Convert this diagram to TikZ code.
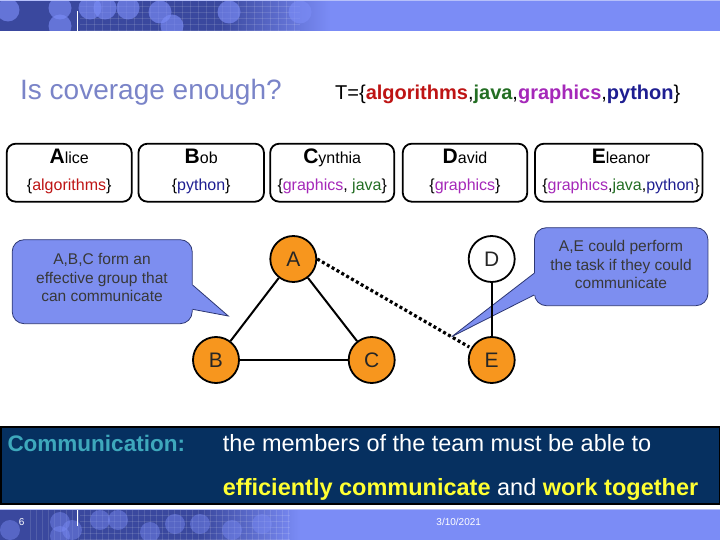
\documentclass[tikz,border=0pt]{standalone}
\usepackage{fontspec}
\setmainfont{Liberation Sans}
\usetikzlibrary{calc}
\definecolor{peri}{RGB}{123,140,246}
\definecolor{barDark}{RGB}{58,72,158}
\definecolor{barMid}{RGB}{88,104,200}
\definecolor{navyband}{RGB}{6,48,96}
\definecolor{orangeN}{RGB}{247,150,30}
\definecolor{titlecol}{RGB}{122,132,200}
\definecolor{algred}{RGB}{190,20,20}
\definecolor{javagreen}{RGB}{35,110,35}
\definecolor{graphpurple}{RGB}{165,40,185}
\definecolor{pynavy}{RGB}{30,30,145}
\definecolor{callfill}{RGB}{125,142,240}
\definecolor{callborder}{RGB}{45,55,115}
\definecolor{commteal}{RGB}{62,168,188}
\definecolor{hiyellow}{RGB}{255,255,50}
\begin{document}
\begin{tikzpicture}[x=1pt,y=-1pt,
  personbox/.style={draw=black, line width=1.8pt, rounded corners=9pt, fill=white, inner sep=0pt},
  memberfont/.style={font=\fontsize{16}{19}\selectfont, inner sep=0pt},
  vertex/.style={circle, draw=black, line width=1.8pt, minimum size=46pt, inner sep=0pt, font=\fontsize{21}{24}\selectfont, text=black!85},
  member/.style={vertex, fill=orangeN},
  edge/.style={draw=black, line width=2pt},
  weakedge/.style={draw=black, line width=3.2pt, dash pattern=on 3pt off 2.6pt, shorten >=2pt},
  callbox/.style={draw=callborder, line width=0.8pt, fill=callfill, rounded corners=12pt, inner sep=0pt},
  calltext/.style={align=center, text=black!78, font=\fontsize{15.5}{18.8}\selectfont, inner sep=0pt},
  bartext/.style={text=white, font=\fontsize{10}{12}\selectfont, inner sep=0pt, anchor=base}
]
\useasboundingbox (0,0) rectangle (720,540);
\fill[white] (0,0) rectangle (720,540);

% ---------- header bar ----------
\fill[peri] (0,0) rectangle (720,31);
\fill[barDark] (0,0) rectangle (220,31);
\shade[left color=barDark, right color=peri] (220,0) rectangle (330,31);
\begin{scope}
  \clip (0,0) rectangle (720,31);
  \foreach \gx in {86,94,...,300} \draw[white, opacity=0.12, line width=0.5pt] (\gx,0) -- (\gx,31);
  \foreach \gy in {6,12,...,30} \draw[white, opacity=0.12, line width=0.5pt] (80,\gy) -- (300,\gy);
  \foreach \cx/\cy in {8/10,60/8,60/26,90/8,105/8,128/8,160/12,172/26,229/12,300/12}
    \fill[peri, opacity=0.65] (\cx,\cy) circle (11.5);
\end{scope}
\fill[peri!55!white] (0,0) rectangle (720,1.2);
\draw[white, line width=1.5pt] (77.5,11) -- (77.5,31);

% ---------- titles ----------
\node[anchor=base west, inner sep=0pt, text=titlecol, font=\fontsize{28}{32}\selectfont] (title) at (20,100) {Is coverage enough?};
\node[anchor=base west, inner sep=0pt, font=\fontsize{20}{24}\selectfont] (tset) at (335,100)
  {T=\{\textbf{\textcolor{algred}{algorithms}},\textbf{\textcolor{javagreen}{java}},\textbf{\textcolor{graphpurple}{graphics}},\textbf{\textcolor{pynavy}{python}}\}};

% ---------- person boxes ----------
\node[personbox, minimum width=125pt, minimum height=58pt] (alice) at (69.2,172.7) {};
\node[personbox, minimum width=125.5pt, minimum height=58pt] (bob) at (201.2,172.7) {};
\node[personbox, minimum width=124pt, minimum height=58pt] (cynthia) at (332.2,172.7) {};
\node[personbox, minimum width=124.5pt, minimum height=58pt] (david) at (465,172.7) {};
\node[personbox, minimum width=167.5pt, minimum height=58pt] (eleanor) at (618.7,172.7) {};

\node[memberfont, anchor=base] (alicename) at (69.2,163.5) {{\fontsize{21}{24}\selectfont\bfseries A}lice};
\node[memberfont, anchor=base] (aliceset) at (69.2,191) {\{\textcolor{algred}{algorithms}\}};
\node[memberfont, anchor=base] (bobname) at (201.2,163.5) {{\fontsize{21}{24}\selectfont\bfseries B}ob};
\node[memberfont, anchor=base] (bobset) at (201.2,191) {\{\textcolor{pynavy}{python}\}};
\node[memberfont, anchor=base] (cynthianame) at (332.2,163.5) {{\fontsize{21}{24}\selectfont\bfseries C}ynthia};
\node[memberfont, anchor=base] (cynthiaset) at (332.2,191) {\{\textcolor{graphpurple}{graphics}, \textcolor{javagreen}{java}\}};
\node[memberfont, anchor=base] (davidname) at (465,163.5) {{\fontsize{21}{24}\selectfont\bfseries D}avid};
\node[memberfont, anchor=base] (davidset) at (465,191) {\{\textcolor{graphpurple}{graphics}\}};
\node[memberfont, anchor=base] (eleanorname) at (621,163.5) {{\fontsize{21}{24}\selectfont\bfseries E}leanor};
\node[memberfont, anchor=base] (eleanorset) at (621,191) {\{\textcolor{graphpurple}{graphics},\textcolor{javagreen}{java},\textcolor{pynavy}{python}\}};

% ---------- callouts ----------
\node[callbox, minimum width=180pt, minimum height=84pt] (call1) at (102.2,281.7) {};
\coordinate (tip1) at (228.3,316);
\fill[callfill] (189.5,285) -- (192.6,285) -- (tip1) -- (192.6,309.3) -- (189.5,309.3) -- cycle;
\draw[callborder, line width=0.8pt, line join=miter] (192.6,285) -- (tip1) -- (192.6,309.3);
\node[calltext] (call1text) at (102,277.5) {A,B,C form an\\effective group that\\can communicate};

\node[callbox, minimum width=173.5pt, minimum height=78pt] (call2) at (621.2,266.7) {};
\coordinate (tip2) at (451.7,336.7);
\fill[callfill] (537.2,273.3) -- (534.1,273.3) -- (tip2) -- (534.1,295) -- (537.2,295) -- cycle;
\draw[callborder, line width=0.8pt, line join=miter] (534.1,273.3) -- (tip2) -- (534.1,295);
\node[calltext] (call2text) at (621,264.5) {A,E could perform\\the task if they could\\communicate};

% ---------- graph ----------
\node[member] (A) at (293.3,259) {A};
\node[member] (B) at (216,360) {B};
\node[member] (C) at (371.7,360) {C};
\node[vertex, fill=white] (D) at (491.7,259) {D};
\node[member] (E) at (491.7,360) {E};

\draw[edge] (A) -- (B);
\draw[edge] (A) -- (C);
\draw[edge] (B) -- (C);
\draw[edge, line width=1.6pt] (D) -- (E);
\draw[weakedge] (A.east) -- (E.150);

% ---------- bottom band ----------
\node[draw=black, line width=1.5pt, fill=navyband, minimum width=718.5pt, minimum height=77pt, inner sep=0pt] (band) at (360,465.3) {};
\node[anchor=base west, inner sep=0pt, text=commteal, font=\fontsize{22.5}{26}\selectfont\bfseries] (commlabel) at (7.3,451) {Communication:};
\node[anchor=base west, inner sep=0pt, text=white, font=\fontsize{23.5}{27}\selectfont] (commline1) at (222.7,451) {the members of the team must be able to};
\node[anchor=base west, inner sep=0pt, text=white, font=\fontsize{23.5}{27}\selectfont] (commline2) at (222.7,495)
  {\textcolor{hiyellow}{\bfseries efficiently communicate} and \textcolor{hiyellow}{\bfseries work together}};

% ---------- footer bar ----------
\fill[peri] (0,509) rectangle (720,540);
\fill[barDark] (0,509) rectangle (200,540);
\shade[left color=barDark, right color=peri] (200,509) rectangle (300,540);
\begin{scope}
  \clip (0,509) rectangle (720,540);
  \foreach \gx in {30,36,...,290} \draw[white, opacity=0.12, line width=0.5pt] (\gx,509) -- (\gx,540);
  \foreach \gy in {515,521,...,540} \draw[white, opacity=0.12, line width=0.5pt] (80,\gy) -- (290,\gy);
  \foreach \cx/\cy in {10/530,60/522,60/536,72/530,100/520,118/520,150/532,175/524,200/524,232/530,262/524}
    \fill[peri, opacity=0.45] (\cx,\cy) circle (10);
\end{scope}
\fill[peri!55!white] (0,509) rectangle (720,510.2);
\draw[white, line width=1.5pt] (77.5,510) -- (77.5,525.7);
\node[bartext] (pagenum) at (21.7,525.5) {6};
\node[bartext] (datelabel) at (458.7,525.5) {3/10/2021};
\end{tikzpicture}
\end{document}
